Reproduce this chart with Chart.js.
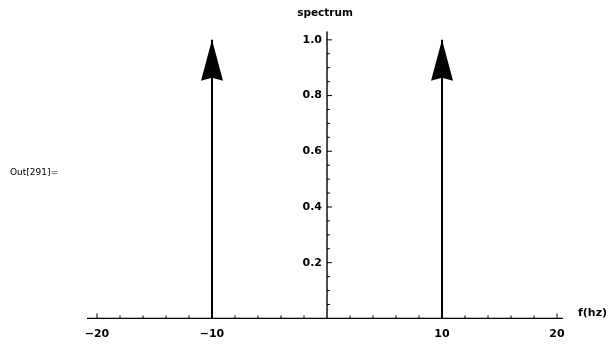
<!DOCTYPE html>
<html>
<head>
<meta charset="utf-8">
<script src="https://cdn.jsdelivr.net/npm/chart.js@4/dist/chart.umd.min.js"></script>
<style>
  html, body { margin: 0; padding: 0; background: #fff; }
  #wrap { position: relative; width: 612px; height: 344px; }
</style>
</head>
<body>
<div id="wrap"><canvas id="c" width="612" height="344"></canvas></div>
<script>
// ---- data ----
const impulseFreqs = [-10, 10];
const impulseAmps = [1, 1];
const xMajorTicks = [-20, -10, 10, 20];
const xMinorTicks = [-18, -16, -14, -12, -8, -6, -4, -2, 2, 4, 6, 8, 12, 14, 16, 18];
const yMajorTicks = [0.2, 0.4, 0.6, 0.8, 1.0];
const yMinorTicks = [0.05, 0.1, 0.15, 0.25, 0.3, 0.35, 0.45, 0.5, 0.55, 0.65, 0.7, 0.75, 0.85, 0.9, 0.95];
const xTitle = 'f(hz)';
const yTitle = 'spectrum';
const outLabel = 'Out[291]=';

const BOLD = 'bold 11px "DejaVu Sans"';

const axesPlugin = {
  id: 'mathAxes',
  afterDatasetsDraw(chart) {
    const ctx = chart.ctx;
    const xs = chart.scales.x, ys = chart.scales.y;
    const area = chart.chartArea;
    const x0 = xs.getPixelForValue(0);
    const y0 = ys.getPixelForValue(0);
    ctx.save();
    ctx.strokeStyle = '#000';
    ctx.fillStyle = '#000';
    // axis lines
    ctx.lineWidth = 1.4;
    ctx.beginPath();
    ctx.moveTo(area.left, y0); ctx.lineTo(area.right, y0);
    ctx.moveTo(x0, area.top); ctx.lineTo(x0, y0);
    ctx.stroke();
    // ticks
    ctx.lineWidth = 1;
    ctx.beginPath();
    xMajorTicks.forEach(v => { const p = xs.getPixelForValue(v); ctx.moveTo(p, y0); ctx.lineTo(p, y0 - 5); });
    xMinorTicks.forEach(v => { const p = xs.getPixelForValue(v); ctx.moveTo(p, y0); ctx.lineTo(p, y0 - 3); });
    yMajorTicks.forEach(v => { const p = ys.getPixelForValue(v); ctx.moveTo(x0, p); ctx.lineTo(x0 + 5, p); });
    yMinorTicks.forEach(v => { const p = ys.getPixelForValue(v); ctx.moveTo(x0, p); ctx.lineTo(x0 + 3, p); });
    ctx.stroke();
    // tick labels
    ctx.font = BOLD;
    ctx.textAlign = 'center';
    ctx.textBaseline = 'middle';
    xMajorTicks.forEach(v => {
      const txt = (v < 0 ? '\u2212' + Math.abs(v) : String(v));
      ctx.fillText(txt, xs.getPixelForValue(v), y0 + 16);
    });
    ctx.textAlign = 'right';
    yMajorTicks.forEach(v => {
      ctx.fillText(v.toFixed(1), x0 - 5, ys.getPixelForValue(v));
    });
    // titles
    ctx.textAlign = 'center';
    ctx.font = 'bold 10.5px "DejaVu Sans"';
    ctx.fillText(yTitle, x0 - 2, 13);
    ctx.textAlign = 'left';
    ctx.font = BOLD;
    ctx.fillText(xTitle, area.right + 15, y0 - 5);
    // Out label
    ctx.font = '9px "DejaVu Sans"';
    ctx.fillText(outLabel, 10, 173);
    ctx.restore();
  }
};

const arrowPlugin = {
  id: 'arrowHeads',
  afterDatasetsDraw(chart) {
    const ctx = chart.ctx;
    ctx.save();
    ctx.fillStyle = '#000';
    chart.data.datasets.forEach((ds, i) => {
      const meta = chart.getDatasetMeta(i);
      const tip = meta.data[meta.data.length - 1];
      const x = tip.x, y = tip.y;
      ctx.beginPath();
      ctx.moveTo(x, y);
      ctx.lineTo(x + 11, y + 41);
      ctx.lineTo(x, y + 38);
      ctx.lineTo(x - 11, y + 41);
      ctx.closePath();
      ctx.fill();
    });
    ctx.restore();
  }
};

new Chart(document.getElementById('c'), {
  type: 'scatter',
  data: {
    datasets: impulseFreqs.map((f, i) => ({
      data: [{ x: f, y: 0 }, { x: f, y: impulseAmps[i] }],
      showLine: true,
      borderColor: '#000',
      borderWidth: 2,
      pointRadius: 0,
      pointHoverRadius: 0
    }))
  },
  options: {
    responsive: false,
    animation: false,
    events: [],
    layout: { padding: { left: 87, right: 49, top: 31.5, bottom: 25.6 } },
    plugins: { legend: { display: false }, tooltip: { enabled: false } },
    scales: {
      x: { type: 'linear', min: -20.87, max: 20.52, display: false },
      y: { type: 'linear', min: 0, max: 1.03, display: false }
    }
  },
  plugins: [axesPlugin, arrowPlugin]
});
</script>
</body>
</html>
